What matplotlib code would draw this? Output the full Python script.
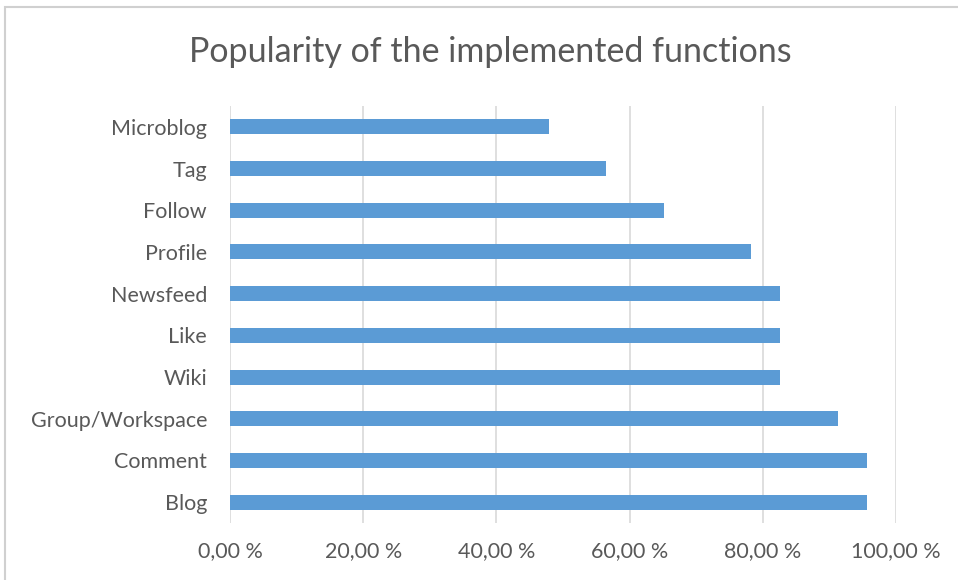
import numpy as np
import matplotlib.pyplot as plt
from matplotlib.patches import Rectangle
from matplotlib.ticker import FuncFormatter

plt.rcParams['font.family'] = ['Lato', 'DejaVu Sans']

functions = ["Blog", "Comment", "Group/Workspace", "Wiki", "Like",
             "Newsfeed", "Profile", "Follow", "Tag", "Microblog"]
share = [95.65, 95.65, 91.30, 82.61, 82.61, 82.61, 78.26, 65.22, 56.52, 47.83]
ticks = [0, 20, 40, 60, 80, 100]

bar_color = "#5B9BD5"
grid_color = "#D9D9D9"
text_color = "#595959"

fig = plt.figure(figsize=(9.58, 5.8), dpi=100)
ax = fig.add_axes([230 / 958, 1 - 523 / 580, 666 / 958, 417 / 580])

y = np.arange(len(functions))
ax.barh(y, share, height=0.36, color=bar_color, zorder=3)

ax.set_xlim(0, 100)
ax.set_ylim(-0.5, len(functions) - 0.5)
ax.set_yticks(y)
ax.set_yticklabels(functions)
ax.set_xticks(ticks)
ax.xaxis.set_major_formatter(FuncFormatter(lambda v, _: f"{v:.2f}".replace(".", ",") + " %"))

ax.grid(axis="x", color=grid_color, linewidth=1.2, zorder=0)
for s in ax.spines.values():
    s.set_visible(False)
ax.tick_params(length=0, labelsize=15.5, labelcolor=text_color)
ax.tick_params(axis="x", pad=13)
ax.tick_params(axis="y", pad=16.5)

fig.text(490 / 958, 1 - 52 / 580, "Popularity of the implemented functions",
         ha="center", va="center", fontsize=24.5, color=text_color)

# outer chart frame, only its top and left edges fall inside the image
fig.patches.append(Rectangle((5 / 958, -0.5), 2, 0.5 + 1 - 7 / 580,
                             transform=fig.transFigure, fill=False,
                             edgecolor="#D0D0D0", linewidth=1.5))

fig.savefig("out.png", dpi=100)
